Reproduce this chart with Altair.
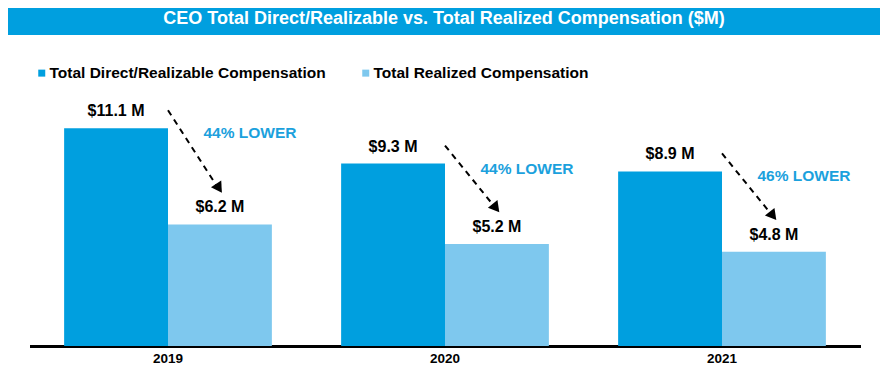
import math
import altair as alt
import pandas as pd

# ---- data ----
years = ["2019", "2020", "2021"]
series_names = ["Total Direct/Realizable Compensation", "Total Realized Compensation"]
direct_values = [11.1, 9.3, 8.9]
realized_values = [6.2, 5.2, 4.8]
pct_labels = ["44% LOWER", "44% LOWER", "46% LOWER"]
title_text = "CEO Total Direct/Realizable vs. Total Realized Compensation ($M)"

# ---- styling / layout ----
DARK = "#009FDF"
LIGHT = "#7EC8EE"
PCT_BLUE = "#1BA1DD"
FONT = "Liberation Sans"
W, H = 831, 255
YMAX = 13.0
PX = H / YMAX  # pixels per $M
PAD_L, PAD_T, PAD_R, PAD_B = 21.5, 83, 19.5, 20
TOTAL_W = PAD_L + W + PAD_R

rows = []
for y, d, r in zip(years, direct_values, realized_values):
    rows.append({"year": y, "series": series_names[0], "value": d, "label": f"${d} M"})
    rows.append({"year": y, "series": series_names[1], "value": r, "label": f"${r} M"})
bars_df = pd.DataFrame(rows)

ARROW_DX0, ARROW_DX1 = 0, 55      # px from group centre
ARROW_UP0, ARROW_UP1 = 18, 30     # px above bar tops
arrow_rows = []
for y, d, r, p in zip(years, direct_values, realized_values, pct_labels):
    y0 = d + ARROW_UP0 / PX
    y1 = r + ARROW_UP1 / PX
    dxp = ARROW_DX1 - ARROW_DX0
    dyp = (y0 - y1) * PX
    ang = math.degrees(math.atan2(dxp, -dyp)) % 360  # clockwise from up
    arrow_rows.append({"year": y, "y0": y0, "y1": y1, "angle": ang, "pct": p, "dv": d})
arrow_df = pd.DataFrame(arrow_rows)

xscale = alt.Scale(domain=years, paddingInner=0.25, paddingOuter=0.125)
yscale = alt.Scale(domain=[0, YMAX], nice=False, zero=True)
offscale = alt.Scale(domain=series_names, paddingInner=0, paddingOuter=0)

base = alt.Chart(bars_df)

bars = base.mark_bar().encode(
    x=alt.X("year:N", scale=xscale, title=None,
            axis=alt.Axis(labelAngle=0, ticks=False, domainColor="black", domainWidth=3,
                          labelFont=FONT, labelFontWeight="bold", labelFontSize=13.5,
                          labelColor="black", labelPadding=5)),
    xOffset=alt.XOffset("series:N", scale=offscale),
    y=alt.Y("value:Q", scale=yscale, axis=None),
    color=alt.Color("series:N", scale=alt.Scale(domain=series_names, range=[DARK, LIGHT]),
                    legend=alt.Legend(title=None, orient="none", legendX=4.5, legendY=-26,
                                      direction="horizontal", symbolType="square", symbolSize=49,
                                      symbolStrokeWidth=0, labelFont=FONT, labelFontWeight="bold",
                                      labelFontSize=15.5, labelColor="black", columnPadding=32,
                                      labelOffset=0, padding=0, labelLimit=400)),
)

value_labels = base.mark_text(font=FONT, fontWeight="bold", fontSize=16, color="black",
                              baseline="bottom", dy=-9).encode(
    x=alt.X("year:N", scale=xscale),
    xOffset=alt.XOffset("series:N", scale=offscale),
    y=alt.Y("value:Q", scale=yscale),
    text="label:N",
)

arrow_base = alt.Chart(arrow_df)
arrow_line = arrow_base.mark_rule(color="black", strokeWidth=2, strokeDash=[6, 5],
                                  xOffset=ARROW_DX0, x2Offset=ARROW_DX1 - 6, y2Offset=-8).encode(
    x=alt.X("year:N", scale=xscale),
    x2="year:N",
    y=alt.Y("y0:Q", scale=yscale),
    y2="y1:Q",
)
arrow_head = arrow_base.mark_point(shape="triangle-up", filled=True, color="black", opacity=1,
                                   size=150, xOffset=ARROW_DX1 - 4, yOffset=-6).encode(
    x=alt.X("year:N", scale=xscale),
    y=alt.Y("y1:Q", scale=yscale),
    angle=alt.Angle("angle:Q", scale=None),
)
pct_text = arrow_base.mark_text(font=FONT, fontWeight="bold", fontSize=15.5, color=PCT_BLUE,
                                baseline="middle", align="center", dx=82, dy=5).encode(
    x=alt.X("year:N", scale=xscale),
    y=alt.Y("dv:Q", scale=yscale),
    text="pct:N",
)

title_df = pd.DataFrame({"t": [title_text]})
title_bar = alt.Chart(title_df).mark_rect(color=DARK).encode(
    x=alt.value(-PAD_L), x2=alt.value(TOTAL_W - PAD_L), y=alt.value(-89), y2=alt.value(-56)
)
title_lbl = alt.Chart(title_df).mark_text(font=FONT, fontWeight="bold", fontSize=18, color="white",
                                          align="center", baseline="middle").encode(
    x=alt.value(414.5), y=alt.value(-72.5), text="t:N"
)

chart = alt.layer(title_bar, title_lbl, bars, value_labels, arrow_line, arrow_head, pct_text).properties(
    width=W, height=H,
    autosize=alt.AutoSizeParams(type="none"),
    padding={"left": PAD_L, "top": PAD_T, "right": PAD_R, "bottom": PAD_B},
).configure(background="white", view=alt.ViewConfig(stroke=None))

chart.save("out.html", embed_options={"renderer": "svg", "actions": False})
